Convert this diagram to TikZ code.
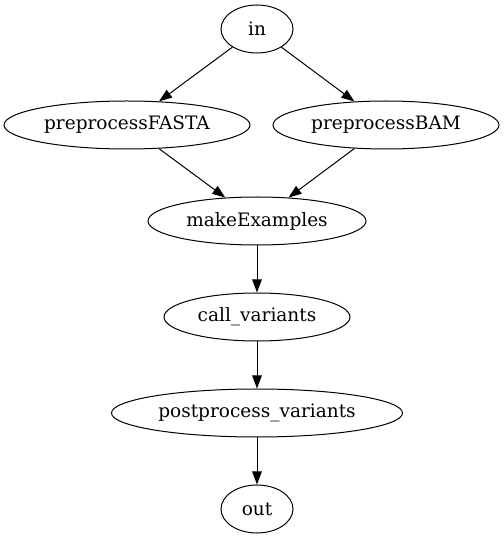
\documentclass[tikz,border=0pt]{standalone}
\usepackage{fontspec}
\setmainfont{DejaVu Serif}
\usepackage{tikz}
\usetikzlibrary{shapes.geometric, arrows.meta}

\begin{document}
\begin{tikzpicture}[x=1pt, y=1pt,
        proc/.style={ellipse, draw, black, line width=1pt, inner sep=0pt,
            minimum height=48pt, font=\fontsize{18.5}{20}\selectfont},
        flow/.style={-{Triangle[length=13pt, width=9.5pt]}, black, line width=1pt}]
        \useasboundingbox (0,0) rectangle (504,539);
        \node[proc, minimum width=72pt]  (in)    at (257,510) {in};
        \node[proc, minimum width=246pt] (fasta) at (127,414) {preprocessFASTA};
        \node[proc, minimum width=226pt] (bam)   at (386,414) {preprocessBAM};
        \node[proc, minimum width=218pt] (make)  at (257,318) {makeExamples};
        \node[proc, minimum width=186pt] (call)  at (257,222) {call\_variants};
        \node[proc, minimum width=291pt] (post)  at (257,126) {postprocess\_variants};
        \node[proc, minimum width=72pt]  (out)   at (257,30)  {out};
        \draw[flow]
            (in) -- (fasta);
        \draw[flow]
            (in) -- (bam);
        \draw[flow]
            (fasta) -- (make);
        \draw[flow]
            (bam) -- (make);
        \draw[flow]
            (make) -- (call);
        \draw[flow]
            (call) -- (post);
        \draw[flow]
            (post) -- (out);
    \end{tikzpicture}
\end{document}
